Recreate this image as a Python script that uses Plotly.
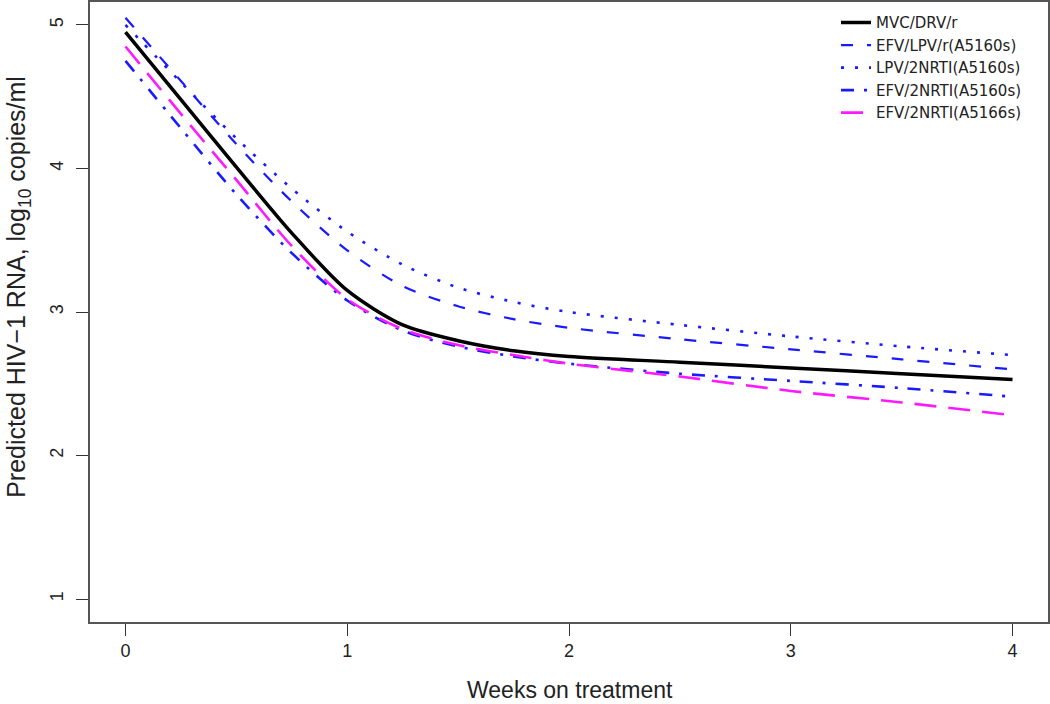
import plotly.graph_objects as go

weeks = [0, 0.25, 0.5, 0.75, 1.0, 1.25, 1.5, 1.75, 2.0, 2.5, 3.0, 3.5, 4.0]

mvc_drv_r = [4.95, 4.48, 4.01, 3.55, 3.15, 2.91, 2.80, 2.73, 2.69, 2.65, 2.61, 2.57, 2.53]
efv_lpv_r_5160 = [5.05, 4.61, 4.17, 3.77, 3.43, 3.18, 3.04, 2.95, 2.89, 2.81, 2.74, 2.67, 2.60]
lpv_2nrti_5160 = [5.00, 4.60, 4.21, 3.86, 3.56, 3.33, 3.17, 3.07, 3.00, 2.91, 2.83, 2.76, 2.70]
efv_2nrti_5160 = [4.75, 4.28, 3.82, 3.41, 3.08, 2.87, 2.76, 2.69, 2.64, 2.57, 2.52, 2.47, 2.41]
efv_2nrti_5166 = [4.85, 4.38, 3.92, 3.46, 3.09, 2.88, 2.77, 2.70, 2.64, 2.55, 2.45, 2.37, 2.28]

series_names = ["MVC/DRV/r", "EFV/LPV/r(A5160s)", "LPV/2NRTI(A5160s)",
                "EFV/2NRTI(A5160s)", "EFV/2NRTI(A5166s)"]
series_values = [mvc_drv_r, efv_lpv_r_5160, lpv_2nrti_5160, efv_2nrti_5160, efv_2nrti_5166]
styles = [
    dict(color="#000000", width=3.5, dash="solid"),
    dict(color="#1a1aff", width=2.2, dash="12px,14px"),
    dict(color="#1a1aff", width=2.6, dash="3px,11px"),
    dict(color="#1a1aff", width=2.6, dash="13px,10px,3px,10px"),
    dict(color="#ff19ff", width=2.6, dash="22px,12px"),
]

x_ticks = [0, 1, 2, 3, 4]
y_ticks = [1, 2, 3, 4, 5]

FONT = "Liberation Sans, Arial, sans-serif"

fig = go.Figure()
for name, vals, st in zip(series_names, series_values, styles):
    fig.add_trace(go.Scatter(
        x=weeks, y=vals, mode="lines", name=name,
        line=dict(color=st["color"], width=st["width"], dash=st["dash"],
                  shape="spline", smoothing=0.8),
    ))

fig.update_layout(
    width=1050, height=704,
    margin=dict(l=90, r=2, t=2, b=82),
    paper_bgcolor="white", plot_bgcolor="white",
    font=dict(family=FONT, size=18, color="#222222"),
    showlegend=True,
    legend=dict(x=0.7787, y=0.993, xanchor="left", yanchor="top",
                bgcolor="rgba(0,0,0,0)", borderwidth=0,
                font=dict(family="DejaVu Sans, sans-serif", size=15, color="#222222")),
    xaxis=dict(
        range=[-0.16, 4.16], tickvals=x_ticks, ticktext=[str(v) for v in x_ticks],
        showgrid=False, zeroline=False, automargin=False,
        showline=True, mirror=True, linecolor="#555555", linewidth=1.5,
        ticks="outside", ticklen=12, tickcolor="#333333", tickwidth=1,
        tickfont=dict(size=18),
    ),
    yaxis=dict(
        range=[0.84, 5.16], tickvals=y_ticks, ticktext=[str(v) for v in y_ticks],
        tickangle=-90, ticklabelstandoff=6,
        showgrid=False, zeroline=False, automargin=False,
        showline=True, mirror=True, linecolor="#555555", linewidth=1.5,
        ticks="outside", ticklen=12, tickcolor="#333333", tickwidth=1,
        tickfont=dict(size=18),
    ),
    annotations=[
        dict(text="Weeks on treatment", xref="paper", yref="paper",
             x=0.501, y=-0.1097, xanchor="center", yanchor="middle",
             showarrow=False, font=dict(size=23, family=FONT, color="#222222")),
        dict(text="Predicted HIV\u22121 RNA, log<sub>10</sub> copies/ml",
             xref="paper", yref="paper", x=-0.0745, y=0.540,
             xanchor="center", yanchor="middle", textangle=-90,
             showarrow=False, font=dict(size=25, family=FONT, color="#222222")),
    ],
)

fig.write_html("out.html",
               config={"displayModeBar": False},
               post_script="document.body.style.margin='0';document.body.style.overflow='hidden';")
